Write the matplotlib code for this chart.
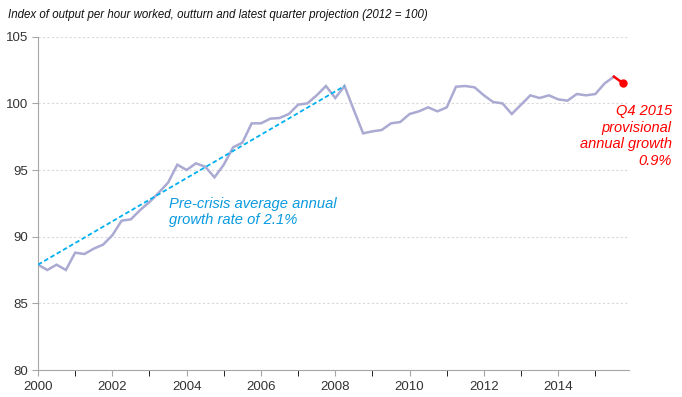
import matplotlib.pyplot as plt
import numpy as np

plt.rcParams['font.family'] = ['Liberation Sans', 'DejaVu Sans']

# Quarterly index, 2000 Q1 .. 2015 Q4 (2012 = 100)
years = np.arange(2000, 2016)
productivity = [
    87.9, 87.5, 87.9, 87.5,
    88.8, 88.7, 89.1, 89.4,
    90.1, 91.2, 91.3, 92.0,
    92.6, 93.3, 94.05, 95.4,
    95.0, 95.5, 95.25, 94.45,
    95.4, 96.7, 97.05, 98.5,
    98.5, 98.85, 98.9, 99.2,
    99.9, 100.0, 100.6, 101.3,
    100.4, 101.3, 99.5, 97.75,
    97.9, 98.0, 98.5, 98.6,
    99.2, 99.4, 99.7, 99.4,
    99.7, 101.25, 101.3, 101.2,
    100.6, 100.1, 100.0, 99.2,
    99.9, 100.6, 100.4, 100.6,
    100.3, 100.2, 100.7, 100.6,
    100.7, 101.5, 102.0, 101.5,
]
t = 2000 + np.arange(len(productivity)) / 4.0
y = np.array(productivity)

# pre-crisis trend: 2000 Q1 to 2008 Q2
trend_start = 0
trend_end = 33

fig = plt.figure(figsize=(6.82, 3.97), dpi=100)
ax = fig.add_axes([0.0557, 0.068, 0.8663, 0.8396])

ax.plot(t[:-1], y[:-1], color='#aaaad2', lw=1.8, solid_joinstyle='miter', zorder=3)
ax.plot(t[-2:], y[-2:], color='#ff0000', lw=1.8, zorder=4)
ax.plot(t[-1], y[-1], 'o', color='#ff0000', ms=5, zorder=5)
ax.plot([t[trend_start], t[trend_end]], [y[trend_start], y[trend_end]],
        color='#00b0f0', lw=1.3, ls=(0, (2.5, 1.5)), zorder=4)

ax.set_xlim(2000, 2015.9)
ax.set_ylim(80, 105)
ax.set_yticks(np.arange(80, 106, 5))
ax.set_xticks(years[::2])
ax.set_xticks(years, minor=True)
ax.set_xticklabels([str(v) for v in years[::2]])

ax.grid(axis='y', color='#d9d9d9', ls=(0, (2, 2)), lw=0.8)
ax.set_axisbelow(True)
for s in ['top', 'right']:
    ax.spines[s].set_visible(False)
for s in ['left', 'bottom']:
    ax.spines[s].set_color('#a6a6a6')
ax.tick_params(axis='both', labelsize=9.5, colors='#a6a6a6', labelcolor='#333333')
ax.tick_params(axis='y', length=4, pad=3)
ax.tick_params(axis='x', which='major', length=4, pad=4)
ax.tick_params(axis='x', which='minor', length=4)

fig.text(0.012, 0.963, 'Index of output per hour worked, outturn and latest quarter projection (2012 = 100)',
         fontsize=8.3, style='italic', ha='left', va='center', color='#111111')

ax.text(2003.53, 91.85, 'Pre-crisis average annual\ngrowth rate of 2.1%',
        fontsize=10.6, style='italic', color='#0a9ae0', ha='left', va='center',
        linespacing=1.25)
ax.text(0.985, 0.6574, 'Q4 2015\nprovisional\nannual growth\n0.9%',
        transform=fig.transFigure, fontsize=10.5, style='italic', color='#ff0000',
        ha='right', va='center', linespacing=1.25)

fig.savefig('out.png', dpi=100)
